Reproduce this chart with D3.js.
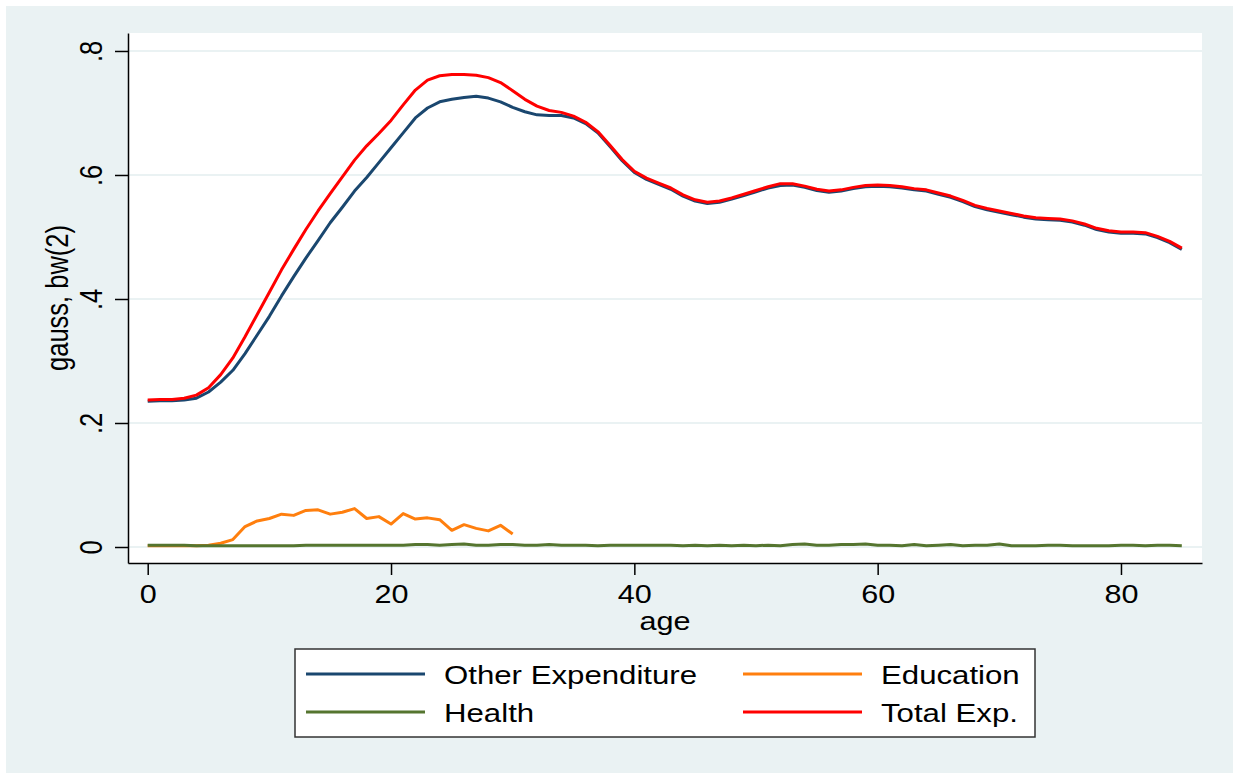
<!DOCTYPE html>
<html lang="en">
<head>
    <meta charset="utf-8"/>
    <title>gauss, bw(2)</title>
    <script src="https://d3js.org/d3.v7.min.js"></script>
    <style>
        html, body {
            margin: 0;
            padding: 0;
            background: #ffffff;
        }
        svg text {
            font-family: "Liberation Sans", Arial, sans-serif;
            fill: #000;
        }
    </style>
</head>
<body>
<svg id="chart" width="1233" height="773"></svg>
<script>
    // ages 0..85
    const ages = d3.range(0, 86);

    const otherExp = [
        0.235, 0.236, 0.236, 0.237, 0.240, 0.250, 0.266, 0.285, 0.312, 0.342,
        0.372, 0.405, 0.436, 0.466, 0.494, 0.523, 0.548, 0.574, 0.596, 0.620,
        0.644, 0.668, 0.692, 0.708, 0.718, 0.722, 0.725, 0.727, 0.724, 0.718,
        0.709, 0.702, 0.697, 0.696, 0.696, 0.692, 0.683, 0.668, 0.646, 0.623,
        0.604, 0.593, 0.585, 0.577, 0.566, 0.558, 0.554, 0.556, 0.561, 0.567,
        0.573, 0.579, 0.583, 0.584, 0.580, 0.575, 0.572, 0.574, 0.578, 0.581,
        0.582, 0.581, 0.579, 0.576, 0.574, 0.569, 0.564, 0.557, 0.549, 0.544,
        0.540, 0.536, 0.532, 0.529, 0.528, 0.527, 0.524, 0.519, 0.512, 0.508,
        0.506, 0.506, 0.505, 0.499, 0.491, 0.480
    ];

    // education only observed up to age 30
    const educationAges = d3.range(0, 31);
    const education = [
        0.002, 0.002, 0.002, 0.002, 0.002, 0.003, 0.006, 0.012, 0.033, 0.042,
        0.046, 0.053, 0.051, 0.059, 0.060, 0.053, 0.056, 0.062, 0.046, 0.049,
        0.037, 0.054, 0.045, 0.047, 0.044, 0.027, 0.036, 0.030, 0.026, 0.035,
        0.021
    ];

    const health = [
        0.003, 0.003, 0.003, 0.003, 0.002, 0.002, 0.002, 0.002, 0.002, 0.002,
        0.002, 0.002, 0.002, 0.003, 0.003, 0.003, 0.003, 0.003, 0.003, 0.003,
        0.003, 0.003, 0.004, 0.004, 0.003, 0.004, 0.005, 0.003, 0.003, 0.004,
        0.004, 0.003, 0.003, 0.004, 0.003, 0.003, 0.003, 0.002, 0.003, 0.003,
        0.003, 0.003, 0.003, 0.003, 0.002, 0.003, 0.002, 0.003, 0.002, 0.003,
        0.002, 0.003, 0.002, 0.004, 0.005, 0.003, 0.003, 0.004, 0.004, 0.005,
        0.003, 0.003, 0.002, 0.004, 0.002, 0.003, 0.004, 0.002, 0.003, 0.003,
        0.005, 0.002, 0.002, 0.002, 0.003, 0.003, 0.002, 0.002, 0.002, 0.002,
        0.003, 0.003, 0.002, 0.003, 0.003, 0.002
    ];

    const totalExp = [
        0.237, 0.238, 0.238, 0.240, 0.245, 0.257, 0.278, 0.305, 0.339, 0.375,
        0.411, 0.447, 0.480, 0.512, 0.542, 0.570, 0.597, 0.624, 0.647, 0.667,
        0.688, 0.713, 0.737, 0.753, 0.760, 0.762, 0.762, 0.761, 0.757, 0.749,
        0.736, 0.722, 0.711, 0.704, 0.701, 0.695, 0.685, 0.670, 0.648, 0.625,
        0.606, 0.595, 0.587, 0.579, 0.568, 0.560, 0.556, 0.558, 0.563, 0.569,
        0.575, 0.581, 0.586, 0.586, 0.582, 0.577, 0.574, 0.576, 0.580, 0.583,
        0.584, 0.583, 0.581, 0.578, 0.576, 0.571, 0.566, 0.559, 0.551, 0.546,
        0.542, 0.538, 0.534, 0.531, 0.530, 0.529, 0.526, 0.521, 0.514, 0.510,
        0.508, 0.508, 0.507, 0.501, 0.493, 0.482
    ];

    const xTicks = [0, 20, 40, 60, 80];
    const yTicks = [0, 0.2, 0.4, 0.6, 0.8];
    const yTickLabels = ["0", ".2", ".4", ".6", ".8"];

    const seriesNames = ["Other Expenditure", "Education", "Health", "Total Exp."];
    const seriesColors = ["#1a476f", "#ff7f0e", "#55752f", "#ff0000"];

    // ---- layout ----
    const W = 1233, H = 773;
    const plot = {left: 128, right: 1202, top: 33, bottom: 563};
    const stretch = 1.2;   // the picture is wider than tall, glyphs too
    const fs = 25.5;

    const svg = d3.select("#chart");

    svg.append("rect")
        .attr("x", 6).attr("y", 6)
        .attr("width", W - 6).attr("height", H - 6)
        .attr("fill", "#eaf2f3");

    svg.append("rect")
        .attr("x", plot.left).attr("y", plot.top)
        .attr("width", plot.right - plot.left).attr("height", plot.bottom - plot.top)
        .attr("fill", "#ffffff");

    const x = d3.scaleLinear().domain([-1.62, 86.66]).range([plot.left, plot.right]);
    const y = d3.scaleLinear().domain([-0.0258, 0.829]).range([plot.bottom, plot.top]);

    // grid
    svg.append("g")
        .selectAll("line")
        .data(yTicks)
        .enter()
        .append("line")
        .attr("x1", plot.left)
        .attr("x2", plot.right)
        .attr("y1", d => y(d))
        .attr("y2", d => y(d))
        .attr("stroke", "#eaf2f3")
        .attr("stroke-width", 2);

    // lines, drawn in stata order
    const line = d3.line()
        .x(d => x(d[0]))
        .y(d => y(d[1]));

    const series = [
        {name: seriesNames[0], color: seriesColors[0], pts: ages.map((a, i) => [a, otherExp[i]])},
        {name: seriesNames[1], color: seriesColors[1], pts: educationAges.map((a, i) => [a, education[i]])},
        {name: seriesNames[2], color: seriesColors[2], pts: ages.map((a, i) => [a, health[i]])},
        {name: seriesNames[3], color: seriesColors[3], pts: ages.map((a, i) => [a, totalExp[i]])}
    ];

    svg.append("g")
        .selectAll("path")
        .data(series)
        .enter()
        .append("path")
        .attr("d", d => line(d.pts))
        .attr("fill", "none")
        .attr("stroke", d => d.color)
        .attr("stroke-width", 3)
        .attr("stroke-linejoin", "round");

    // axes
    const xAxis = svg.append("g")
        .attr("transform", `translate(0,${plot.bottom})`)
        .call(d3.axisBottom(x).tickValues(xTicks).tickSize(12).tickSizeOuter(0));

    const yAxis = svg.append("g")
        .attr("transform", `translate(${plot.left},0)`)
        .call(d3.axisLeft(y).tickValues(yTicks).tickSize(13).tickSizeOuter(0)
            .tickFormat((d, i) => yTickLabels[i]));

    [xAxis, yAxis].forEach(g => {
        g.select(".domain").attr("stroke", "#000").attr("stroke-width", 1.5);
        g.selectAll(".tick line").attr("stroke", "#000").attr("stroke-width", 1.5);
        g.attr("font-family", null).attr("font-size", null);
    });

    xAxis.selectAll(".tick text")
        .attr("y", null).attr("dy", null)
        .attr("font-size", fs)
        .attr("text-anchor", "middle")
        .attr("transform", `translate(0,40) scale(${stretch},1)`);

    yAxis.selectAll(".tick text")
        .attr("x", null).attr("dy", null)
        .attr("font-size", fs)
        .attr("text-anchor", "middle")
        .attr("transform", `translate(-26,0) scale(${stretch},1) rotate(-90)`);

    // axis titles
    svg.append("text")
        .attr("transform", `translate(665,630) scale(${stretch},1)`)
        .attr("text-anchor", "middle")
        .attr("font-size", fs)
        .text("age");

    svg.append("text")
        .attr("transform", `translate(68,298) scale(${stretch},1) rotate(-90)`)
        .attr("text-anchor", "middle")
        .attr("font-size", fs)
        .text("gauss, bw(2)");

    // legend
    const legend = {left: 295, top: 649, right: 1035, bottom: 737};
    svg.append("rect")
        .attr("x", legend.left).attr("y", legend.top)
        .attr("width", legend.right - legend.left)
        .attr("height", legend.bottom - legend.top)
        .attr("fill", "#fff")
        .attr("stroke", "#333")
        .attr("stroke-width", 1.5);

    const legendOrder = [0, 1, 2, 3];
    const colX = [306, 743];
    const rowY = [674, 712];

    const items = svg.append("g")
        .selectAll("g")
        .data(legendOrder.map(i => series[i]))
        .enter()
        .append("g")
        .attr("transform", (d, i) => `translate(${colX[i % 2]},${rowY[Math.floor(i / 2)]})`);

    items.append("line")
        .attr("x1", 0).attr("x2", 119)
        .attr("y1", 0).attr("y2", 0)
        .attr("stroke", d => d.color)
        .attr("stroke-width", 3);

    items.append("text")
        .attr("transform", `translate(138,10) scale(${stretch},1)`)
        .attr("font-size", 26)
        .text(d => d.name);
</script>
</body>
</html>
